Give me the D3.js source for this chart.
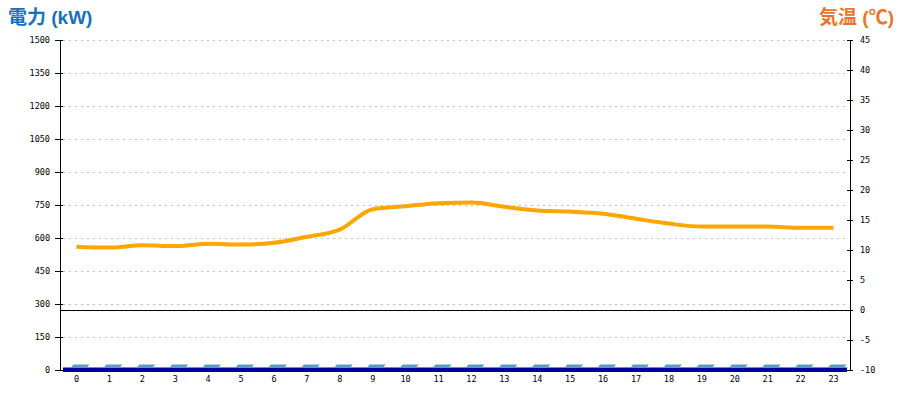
<!DOCTYPE html>
<html>
<head>
<meta charset="utf-8">
<script src="https://cdn.jsdelivr.net/npm/d3@7"></script>
<style>
  body { margin: 0; background: #fff; }
  svg { display: block; }
  .tick-label { font-family: "DejaVu Sans Mono", monospace; font-size: 8.5px; fill: #000; }
  .title { font-family: "Liberation Sans", "Noto Sans CJK JP", sans-serif; font-weight: bold; font-size: 19px; }
</style>
</head>
<body>
<div id="chart"></div>
<script>
// hourly data
const hours = d3.range(24).map(String);
const power = [0, 0, 0, 0, 0, 0, 0, 0, 0, 0, 0, 0, 0, 0, 0, 0, 0, 0, 0, 0, 0, 0, 0, 0];
const temperature = [10.55, 10.4, 10.8, 10.65, 11.05, 10.9, 11.2, 12.2, 13.4, 16.8, 17.3, 17.8,
                     17.9, 17.2, 16.6, 16.4, 16.05, 15.2, 14.4, 13.9, 13.9, 13.9, 13.7, 13.7];
const powerTicks = [0, 150, 300, 450, 600, 750, 900, 1050, 1200, 1350, 1500];
const tempTicks = [-10, -5, 0, 5, 10, 15, 20, 25, 30, 35, 40, 45];

const width = 900, height = 400;
const plotLeft = 60, plotRight = 850, plotTop = 40, plotBottom = 370;

const svg = d3.select("#chart").append("svg")
    .attr("width", width)
    .attr("height", height);

const x = d3.scaleBand().domain(hours).range([plotLeft, plotRight]);
const yL = d3.scaleLinear().domain([0, 1500]).range([plotBottom, plotTop]);
const yR = d3.scaleLinear().domain([-10, 45]).range([plotBottom, plotTop]);

// titles
svg.append("text")
    .attr("class", "title")
    .attr("x", 8).attr("y", 24)
    .attr("fill", "#1670bd")
    .text("電力 (kW)");

svg.append("text")
    .attr("class", "title")
    .attr("x", 894).attr("y", 24)
    .attr("text-anchor", "end")
    .attr("fill", "#ec7428")
    .text("気温 (℃)");

// dotted grid from the power axis
svg.append("g").selectAll("line")
    .data(powerTicks.filter(d => d > 0))
    .enter().append("line")
    .attr("x1", plotLeft + 3).attr("x2", plotRight - 3)
    .attr("y1", d => Math.round(yL(d)) + 0.5)
    .attr("y2", d => Math.round(yL(d)) + 0.5)
    .attr("stroke", "#c0c0c0")
    .attr("stroke-dasharray", "2,4");

// zero line of temperature
svg.append("line")
    .attr("x1", plotLeft).attr("x2", plotRight)
    .attr("y1", Math.round(yR(0)) + 0.5).attr("y2", Math.round(yR(0)) + 0.5)
    .attr("stroke", "#000");

// left axis
const gL = svg.append("g");
gL.append("line")
    .attr("x1", plotLeft + 0.5).attr("x2", plotLeft + 0.5)
    .attr("y1", plotTop).attr("y2", plotBottom)
    .attr("stroke", "#000");
gL.selectAll(".tk").data(powerTicks).enter().append("line")
    .attr("x1", plotLeft - 5).attr("x2", plotLeft + 3)
    .attr("y1", d => Math.round(yL(d)) + 0.5)
    .attr("y2", d => Math.round(yL(d)) + 0.5)
    .attr("stroke", "#000");
gL.selectAll("text").data(powerTicks).enter().append("text")
    .attr("class", "tick-label")
    .attr("x", plotLeft - 10)
    .attr("y", d => yL(d) + 3)
    .attr("text-anchor", "end")
    .text(d => d);

// right axis
const gR = svg.append("g");
gR.append("line")
    .attr("x1", plotRight + 0.5).attr("x2", plotRight + 0.5)
    .attr("y1", plotTop).attr("y2", plotBottom)
    .attr("stroke", "#000");
gR.selectAll(".tk").data(tempTicks).enter().append("line")
    .attr("x1", plotRight - 3).attr("x2", plotRight + 3)
    .attr("y1", d => Math.round(yR(d)) + 0.5)
    .attr("y2", d => Math.round(yR(d)) + 0.5)
    .attr("stroke", "#000");
gR.selectAll("text").data(tempTicks).enter().append("text")
    .attr("class", "tick-label")
    .attr("x", plotRight + 10)
    .attr("y", d => yR(d) + 3)
    .text(d => d);

// floor of the 3D bars
svg.append("rect")
    .attr("x", plotLeft + 3)
    .attr("y", yL(0) - 2.5)
    .attr("width", plotRight - plotLeft - 6)
    .attr("height", 4.5)
    .attr("fill", "#000099");

// power bars (3D style: front face + top face)
const barW = 16, depthX = 2.5, depthY = 3;
const bars = svg.append("g").selectAll("g")
    .data(power)
    .enter().append("g");
bars.append("rect")
    .attr("x", (d, i) => x(hours[i]) + x.bandwidth() / 2 - 5.5)
    .attr("y", d => yL(d) - 2.5)
    .attr("width", barW)
    .attr("height", d => yL(0) - yL(d))
    .attr("fill", "#3f7fae");
bars.append("path")
    .attr("fill", "#5a9cc4")
    .attr("d", (d, i) => {
        const x0 = x(hours[i]) + x.bandwidth() / 2 - 5.5;
        const y0 = yL(d) - 2.5;
        return `M${x0},${y0} L${x0 + barW},${y0} L${x0 + barW + depthX},${y0 - depthY} L${x0 + depthX},${y0 - depthY} Z`;
    });

// x labels
svg.append("g").selectAll("text")
    .data(hours)
    .enter().append("text")
    .attr("class", "tick-label")
    .attr("x", d => x(d) + x.bandwidth() / 2)
    .attr("y", 382)
    .attr("text-anchor", "middle")
    .text(d => d);

// temperature line
const line = d3.line()
    .x((d, i) => x(hours[i]) + x.bandwidth() / 2)
    .y(d => yR(d))
    .curve(d3.curveMonotoneX);

svg.append("path")
    .datum(temperature)
    .attr("fill", "none")
    .attr("stroke", "#ffa500")
    .attr("stroke-width", 4)
    .attr("d", line);
</script>
</body>
</html>
